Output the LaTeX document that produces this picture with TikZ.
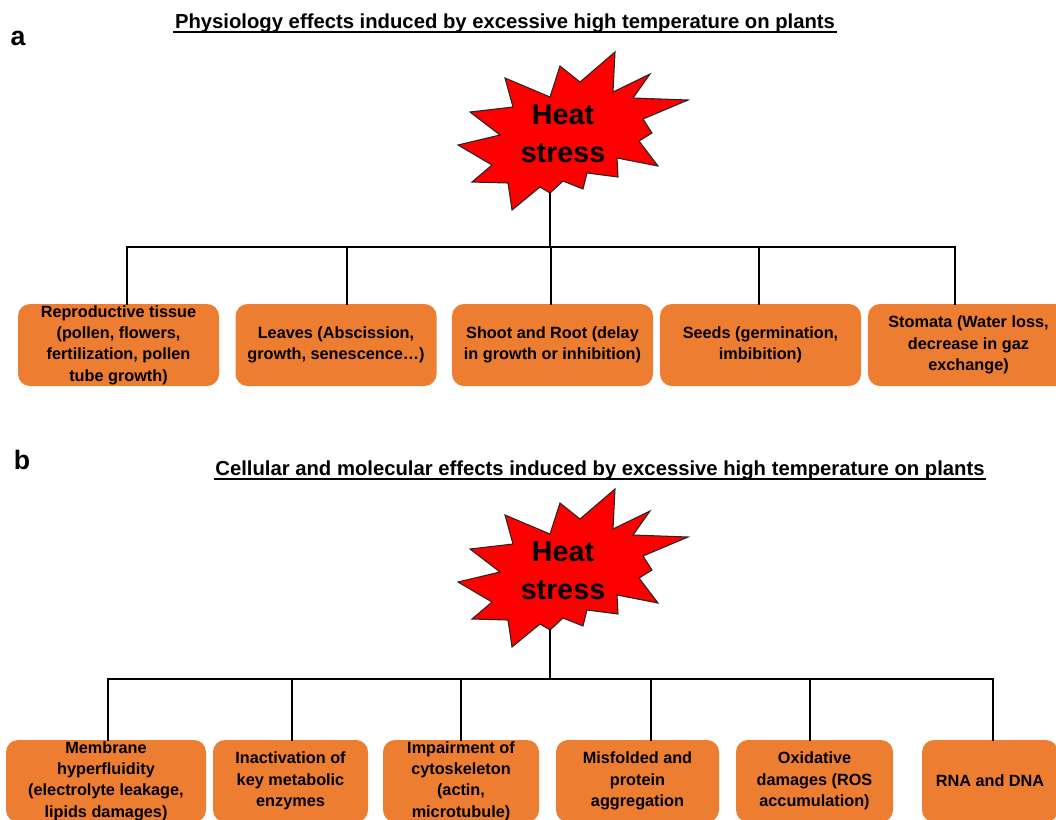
\documentclass[tikz,border=0pt]{standalone}
\usepackage{fontspec}
\setmainfont{Liberation Sans}
\usetikzlibrary{positioning,calc}
\definecolor{effectorange}{HTML}{ED7D31}
\definecolor{heatred}{HTML}{FF0000}

% starburst outline, #1 = vertical shift in px
\newcommand{\heatburst}[1]{%
  \filldraw[fill=heatred,draw=black!85,line width=0.8pt,line join=miter,shift={(0,#1)}]
    (615,52) -- (613,92) -- (650,74) -- (633,98) -- (688,100) -- (643,119)
    -- (652,133) -- (639,141) -- (658,166) -- (617,158) -- (618,177) -- (587,173)
    -- (583,189) -- (563,181) -- (550,193) -- (540,187) -- (512,210) -- (508,183)
    -- (472,182) -- (492,165) -- (458,145) -- (500,135) -- (470,112) -- (513,107)
    -- (505,78) -- (550,97) -- (560,66) -- (580,82) -- cycle;}

\tikzset{
  effect/.style={fill=effectorange,rounded corners=9pt,minimum height=61.5pt,
    align=center,inner sep=1pt,font=\fontsize{12.2}{16}\selectfont\bfseries},
  heat/.style={align=center,font=\fontsize{21.5}{28.5}\selectfont\bfseries},
  title/.style={font=\fontsize{15.2}{18}\selectfont\bfseries,inner sep=1pt},
  underl/.style={line width=1.1pt},
  panel/.style={font=\fontsize{20}{22}\selectfont\bfseries},
  tree/.style={line width=1.6pt,line cap=rect}
}

\begin{document}
\begin{tikzpicture}[x=0.75pt,y=-0.75pt]
\useasboundingbox (0,0) rectangle (1056,819);

% panel a
\node[panel] (labelA) at (18,38) {a};
\node[title] (titleA) at (505,23) {Physiology effects induced by excessive high temperature on plants};
\draw[underl] ($(titleA.south west)+(0,-2)$) -- ($(titleA.south east)+(0,-2)$);
\heatburst{0}
\node[heat] (heatA) at (563,134) {Heat\\stress};
\coordinate (tipA) at (550,193);

\node[effect,minimum width=150.75pt] (repro) at (118.5,345) {Reproductive tissue\\(pollen, flowers,\\fertilization, pollen\\tube growth)};
\node[effect,minimum width=150.75pt] (leaves) at (336,345) {Leaves (Abscission,\\growth, senescence\ldots)};
\node[effect,minimum width=150.75pt] (shoot) at (552.5,345) {Shoot and Root (delay\\in growth or inhibition)};
\node[effect,minimum width=150.75pt] (seeds) at (760.5,345) {Seeds (germination,\\imbibition)};
\node[effect,minimum width=150.75pt] (stomata) at (968.5,345) {Stomata (Water loss,\\decrease in gaz\\exchange)};

\coordinate (busA) at (550,247);
\coordinate (busAl) at (127,247);
\coordinate (busAr) at (955,247);
\draw[tree] (tipA) -- (busA);
\draw[tree] (busAl) -- (busAr);
\foreach \x/\b in {127/repro,347/leaves,551/shoot,759/seeds,955/stomata}{
  \coordinate (drop\b) at (\x,247);
  \draw[tree] (drop\b) -- (drop\b |- \b.north);
}

% panel b
\node[panel] (labelB) at (22,460) {b};
\node[title] (titleB) at (600,470) {Cellular and molecular effects induced by excessive high temperature on plants};
\draw[underl] ($(titleB.south west)+(0,-2)$) -- ($(titleB.south east)+(0,-2)$);
\heatburst{437}
\node[heat] (heatB) at (563,571) {Heat\\stress};
\coordinate (tipB) at (550,630);

\node[effect,minimum width=150pt] (membrane) at (106,781) {Membrane\\hyperfluidity\\(electrolyte leakage,\\lipids damages)};
\node[effect,minimum width=116.25pt] (enzymes) at (290.5,781) {Inactivation of\\key metabolic\\enzymes};
\node[effect,minimum width=117pt] (cytosk) at (461,781) {Impairment of\\cytoskeleton\\(actin,\\microtubule)};
\node[effect,minimum width=122.25pt] (misfold) at (637.5,781) {Misfolded and\\protein\\aggregation};
\node[effect,minimum width=117.75pt] (oxid) at (814.5,781) {Oxidative\\damages (ROS\\accumulation)};
\node[effect,minimum width=102pt] (rna) at (990,781) {RNA and DNA};

\coordinate (busB) at (550,679);
\coordinate (busBl) at (108,679);
\coordinate (busBr) at (993,679);
\draw[tree] (tipB) -- (busB);
\draw[tree] (busBl) -- (busBr);
\foreach \x/\b in {108/membrane,292/enzymes,461/cytosk,651/misfold,810/oxid,993/rna}{
  \coordinate (drop\b) at (\x,679);
  \draw[tree] (drop\b) -- (drop\b |- \b.north);
}
\end{tikzpicture}
\end{document}
